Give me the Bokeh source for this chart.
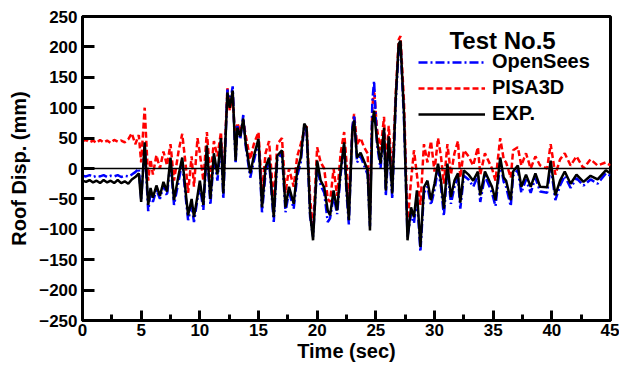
from bokeh.plotting import figure
from bokeh.models import Range1d, FixedTicker, Span, Legend, LegendItem, Label
from bokeh.embed import file_html
from bokeh.resources import INLINE

time_s = [0.0, 0.3, 0.6, 0.9, 1.2, 1.5, 1.8, 2.1, 2.4, 2.7, 3.0, 3.3, 3.6, 3.9, 4.2, 4.5, 4.8,
          5.0, 5.3, 5.6, 5.8, 6.0, 6.3, 6.6, 6.9, 7.2, 7.5, 7.8, 8.2, 8.5, 8.8, 9.0, 9.3, 9.5, 9.8,
          10.0, 10.3, 10.6, 10.9, 11.2, 11.5, 11.8, 12.0, 12.35, 12.55, 12.8, 13.05, 13.2, 13.45,
          13.7, 13.9, 14.3, 14.6, 15.0, 15.3, 15.6, 15.9, 16.3, 16.6, 17.0, 17.3, 17.6, 18.0, 18.3,
          18.6, 18.9, 19.1, 19.4, 19.65, 20.0, 20.3, 20.6, 20.9, 21.1, 21.4, 21.7, 22.0, 22.3, 22.5,
          22.7, 23.0, 23.15, 23.4, 23.7, 24.0, 24.3, 24.5, 24.7, 24.85, 25.1, 25.4, 25.7, 25.85,
          26.1, 26.4, 26.7, 26.95, 27.1, 27.4, 27.7, 28.0, 28.25, 28.5, 28.8, 29.1, 29.4, 29.7,
          30.0, 30.3, 30.55, 30.8, 31.1, 31.4, 31.7, 32.0, 32.2, 32.5, 32.9, 33.3, 33.7, 33.9,
          34.3, 34.9, 35.2, 35.6, 35.9, 36.1, 36.5, 36.7, 37.1, 37.4, 37.8, 38.2, 38.6, 39.0,
          39.6, 39.9, 40.3, 40.7, 41.1, 41.6, 42.1, 42.7, 43.3, 43.9, 44.6, 45.0]

exp_mm = [-20, -22, -19, -23, -20, -24, -19, -23, -20, -24, -19, -24, -21, -25, -18, -14, -8,
          -55, 43, -60, -32, -48, -28, -45, -22, -38, 18, -52, -10, 18, -40, -77, -50, -80, -45,
          -20, -60, 38, -50, 25, -10, 50, -41, 125, 100, 128, 13, 67, 53,
          82, 43, -8, 20, 49, -64, 2, 18, -80, 21, 30, -64, -30, -58, -3,
          18, 74, 67, -74, -118, 13, -20, -31, -69, -77, -36, -69, -3, 43, -31,
          -85, 62, 79, 18, 26, 12, -3, -102, 74, 95, 46, 8, 67, -36,
          53, -41, 117, 205, 210, 90, -118, -64, -80, -36, -129, -31, -20, -52,
          -25, 8, -20, -66, 8, -47, -20, -8, -56, -3, -10, -20, -5, -44,
          -5, -30, -52, 18, -15, -20, -52, -5, 5, -30, -10, -30, -8, -30,
          -31, 13, -44, -20, -5, -25, -10, -22, -12, -18, -3, -8]

opensees_mm = [-12, -13, -11, -14, -12, -13, -11, -14, -12, -13, -11, -14, -12, -13, -10, -6, 0,
               -50, 38, -70, -40, -55, -35, -50, -28, -45, 12, -60, -20, 10, -48, -85, -60, -88, -50,
               -28, -68, 32, -60, 20, -20, 45, -50, 130, 105, 135, 8, 70, 48,
               88, 38, -15, 12, 45, -72, -8, 12, -88, 15, 25, -72, -38, -66, -12,
               10, 70, 60, -80, -112, 5, -28, -40, -88, -82, -45, -75, -10, 38, -40,
               -92, 68, 88, 10, 20, 5, -10, -95, 110, 144, 40, 0, 60, -45,
               45, -50, 110, 198, 205, 80, -112, -75, -90, -45, -137, -40, -30, -60,
               -35, 0, -30, -78, 0, -58, -30, -15, -66, -12, -18, -30, -12, -55,
               -12, -40, -62, 10, -22, -30, -62, -12, -2, -40, -18, -40, -15, -38,
               -40, 5, -52, -28, -12, -32, -16, -28, -18, -25, -8, -12]

pisa3d_mm = [45, 47, 43, 46, 42, 47, 43, 46, 42, 47, 44, 46, 43, 48, 58, 40, 55,
             10, 100, -20, 15, -10, 22, 0, 28, 5, 40, -20, 30, 57, 5, -40, 20, -30, 50,
             25, -20, 60, -15, 45, 20, 60, -25, 132, 95, 122, 30, 75, 60,
             80, 55, 15, 40, 60, -40, 25, 45, -55, 40, 50, -40, 0, -30, 20,
             40, 62, 70, -50, -100, 35, 10, 0, -50, -55, 0, -45, 25, 60, 10,
             -60, 65, 90, 40, 50, 35, 25, -70, 100, 130, 65, 30, 85, 0,
             70, -10, 125, 212, 218, 110, -90, -20, 30, -10, -60, 40, 10, 45,
             -5, 50, 20, -25, 40, -10, 25, 45, -15, 30, 20, 5, 35, -10,
             25, 0, -20, 50, 15, 10, -15, 30, 35, 5, 25, 0, 20, 5,
             0, 40, -10, 15, 25, 5, 20, 0, 15, 5, 10, 5]

x_ticks = [0, 5, 10, 15, 20, 25, 30, 35, 40, 45]
x_minor = [2.5, 7.5, 12.5, 17.5, 22.5, 27.5, 32.5, 37.5, 42.5]
y_ticks = [-250, -200, -150, -100, -50, 0, 50, 100, 150, 200, 250]

FONT = "Liberation Sans"

p = figure(frame_width=528, frame_height=304, output_backend="svg", toolbar_location=None,
           x_range=Range1d(0, 45), y_range=Range1d(-250, 250),
           min_border_left=82, min_border_right=9, min_border_top=16, min_border_bottom=52)
p.background_fill_color = "white"
p.border_fill_color = "white"
p.grid.visible = False
p.outline_line_color = "black"
p.outline_line_width = 3

for ax in (p.xaxis[0], p.yaxis[0]):
    ax.axis_line_width = 3
    ax.axis_line_color = "black"
    ax.major_tick_line_width = 3
    ax.minor_tick_line_width = 3
    ax.major_tick_out = 0
    ax.minor_tick_out = 0
    ax.major_label_text_font = FONT
    ax.major_label_text_font_style = "bold"
    ax.major_label_text_font_size = "17px"
    ax.major_label_text_color = "black"
    ax.axis_label_text_font = FONT
    ax.axis_label_text_font_style = "bold"
    ax.axis_label_text_font_size = "20px"
    ax.axis_label_text_color = "black"

p.xaxis[0].ticker = FixedTicker(ticks=x_ticks, minor_ticks=x_minor)
p.xaxis[0].major_tick_in = 10
p.xaxis[0].minor_tick_in = 6
p.xaxis[0].major_label_standoff = 3
p.xaxis[0].axis_label = "Time (sec)"
p.xaxis[0].axis_label_standoff = 1

p.yaxis[0].ticker = FixedTicker(ticks=y_ticks, minor_ticks=[])
p.yaxis[0].major_tick_in = 12
p.yaxis[0].major_label_standoff = 5
p.yaxis[0].axis_label = "Roof Disp. (mm)"
p.yaxis[0].axis_label_standoff = 6

p.add_layout(Span(location=0, dimension="width", line_color="black", line_width=1.5))

r_pisa = p.line(time_s, pisa3d_mm, line_color="red", line_width=2.5, line_dash="6 3")
r_open = p.line(time_s, opensees_mm, line_color="blue", line_width=2.5, line_dash="9 3 2 3")
r_exp = p.line(time_s, exp_mm, line_color="black", line_width=2.5)

legend = Legend(items=[LegendItem(label="OpenSees", renderers=[r_open]),
                       LegendItem(label="PISA3D", renderers=[r_pisa]),
                       LegendItem(label="EXP.", renderers=[r_exp])],
                location=(336, 195), glyph_width=67, glyph_height=20, label_height=20,
                label_standoff=7, spacing=3, padding=0, margin=0,
                border_line_alpha=0, background_fill_alpha=0,
                label_text_font=FONT, label_text_font_style="bold",
                label_text_font_size="20px", label_text_color="black")
p.add_layout(legend)

p.add_layout(Label(x=35.8, y=211, text="Test No.5", text_align="center", text_baseline="middle",
                   text_font=FONT, text_font_style="bold", text_font_size="24px",
                   text_color="black"))

open("out.html", "w").write(file_html(p, INLINE))
